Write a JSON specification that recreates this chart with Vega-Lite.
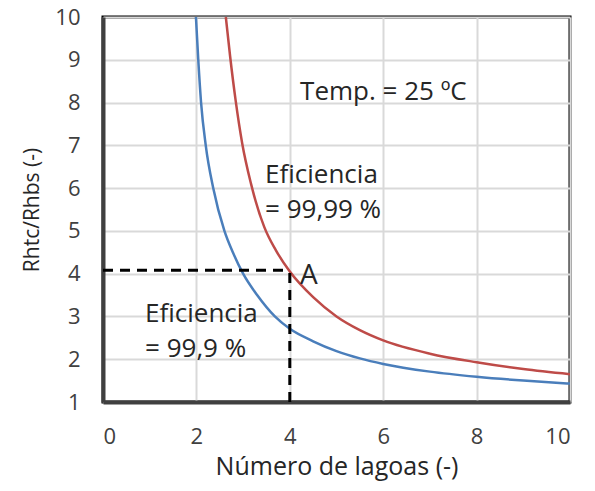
{
  "$schema": "https://vega.github.io/schema/vega-lite/v6.json",
  "width": 467,
  "height": 385,
  "autosize": {"type": "none"},
  "padding": {"left": 103, "top": 17, "right": 25, "bottom": 89},
  "background": "white",
  "config": {
    "font": "Open Sans",
    "view": {"stroke": "#000", "strokeWidth": 3},
    "axis": {
      "grid": true,
      "gridColor": "#d9d9d9",
      "gridWidth": 2,
      "ticks": false,
      "domainColor": "#404040",
      "domainWidth": 4,
      "labelFontSize": 22,
      "labelColor": "#404040",
      "titleFontSize": 21,
      "titleColor": "#262626",
      "titleFontWeight": "normal"
    }
  },
  "datasets": {
    "curves": [
      {"series": "99,9", "x": 1.99, "y": 10},
      {"series": "99,9", "x": 2.04, "y": 9},
      {"series": "99,9", "x": 2.1, "y": 8},
      {"series": "99,9", "x": 2.2, "y": 7},
      {"series": "99,9", "x": 2.36, "y": 6},
      {"series": "99,9", "x": 2.6, "y": 5},
      {"series": "99,9", "x": 2.78, "y": 4.5},
      {"series": "99,9", "x": 3.0, "y": 4.0},
      {"series": "99,9", "x": 3.3, "y": 3.5},
      {"series": "99,9", "x": 3.68, "y": 3.0},
      {"series": "99,9", "x": 4, "y": 2.71},
      {"series": "99,9", "x": 4.5, "y": 2.42},
      {"series": "99,9", "x": 5, "y": 2.19},
      {"series": "99,9", "x": 5.5, "y": 2.02},
      {"series": "99,9", "x": 6, "y": 1.89},
      {"series": "99,9", "x": 7, "y": 1.71},
      {"series": "99,9", "x": 8, "y": 1.59},
      {"series": "99,9", "x": 9, "y": 1.5},
      {"series": "99,9", "x": 10, "y": 1.43},
      {"series": "99,99", "x": 2.63, "y": 10},
      {"series": "99,99", "x": 2.72, "y": 9.1},
      {"series": "99,99", "x": 2.84, "y": 8.05},
      {"series": "99,99", "x": 2.98, "y": 7.05},
      {"series": "99,99", "x": 3.17, "y": 6.1},
      {"series": "99,99", "x": 3.45, "y": 5.1},
      {"series": "99,99", "x": 3.7, "y": 4.55},
      {"series": "99,99", "x": 4, "y": 4.05},
      {"series": "99,99", "x": 4.5, "y": 3.45},
      {"series": "99,99", "x": 5, "y": 3.0},
      {"series": "99,99", "x": 5.5, "y": 2.68},
      {"series": "99,99", "x": 6, "y": 2.44},
      {"series": "99,99", "x": 7, "y": 2.13},
      {"series": "99,99", "x": 8, "y": 1.93},
      {"series": "99,99", "x": 9, "y": 1.77},
      {"series": "99,99", "x": 10, "y": 1.65}
    ],
    "guides": [
      {"x": 0, "x2": 4, "y": 4.08, "y2": 4.08},
      {"x": 4, "x2": 4, "y": 1, "y2": 4.08}
    ],
    "notes": [
      {"label": "Temp. = 25 ºC", "x": 4.22, "y": 8.07},
      {"label": "Eficiencia", "x": 3.47, "y": 6.12},
      {"label": "= 99,99 %", "x": 3.47, "y": 5.29},
      {"label": "Eficiencia", "x": 0.9, "y": 2.88},
      {"label": "= 99,9 %", "x": 0.9, "y": 2.06}
    ],
    "pointA": [
      {"label": "A", "x": 4.22, "y": 3.75}
    ]
  },
  "layer": [
    {
      "data": {"name": "curves"},
      "mark": {"type": "line", "interpolate": "monotone", "strokeWidth": 2.5, "clip": true},
      "encoding": {
        "x": {
          "field": "x", "type": "quantitative",
          "scale": {"domain": [0, 10], "nice": false, "zero": false},
          "axis": {"values": [0, 2, 4, 6, 8, 10], "title": "Número de lagoas (-)", "titleFontSize": 25, "labelPadding": 24, "titlePadding": 7}
        },
        "y": {
          "field": "y", "type": "quantitative",
          "scale": {"domain": [1, 10], "nice": false, "zero": false},
          "axis": {"values": [1, 2, 3, 4, 5, 6, 7, 8, 9, 10], "title": "Rhtc/Rhbs (-)", "titleFontSize": 21, "labelPadding": 23, "titlePadding": 12}
        },
        "color": {
          "field": "series", "type": "nominal",
          "scale": {"domain": ["99,9", "99,99"], "range": ["#4a7ebb", "#be4b48"]},
          "legend": null
        }
      }
    },
    {
      "data": {"name": "guides"},
      "mark": {"type": "rule", "strokeDash": [10, 7], "strokeWidth": 3, "color": "#000"},
      "encoding": {
        "x": {"field": "x", "type": "quantitative"},
        "x2": {"field": "x2"},
        "y": {"field": "y", "type": "quantitative"},
        "y2": {"field": "y2"}
      }
    },
    {
      "data": {"name": "notes"},
      "mark": {"type": "text", "align": "left", "baseline": "alphabetic", "fontSize": 26, "color": "#262626"},
      "encoding": {
        "x": {"field": "x", "type": "quantitative"},
        "y": {"field": "y", "type": "quantitative"},
        "text": {"field": "label"}
      }
    },
    {
      "data": {"name": "pointA"},
      "mark": {"type": "text", "align": "left", "baseline": "alphabetic", "fontSize": 28, "color": "#262626"},
      "encoding": {
        "x": {"field": "x", "type": "quantitative"},
        "y": {"field": "y", "type": "quantitative"},
        "text": {"field": "label"}
      }
    }
  ]
}
